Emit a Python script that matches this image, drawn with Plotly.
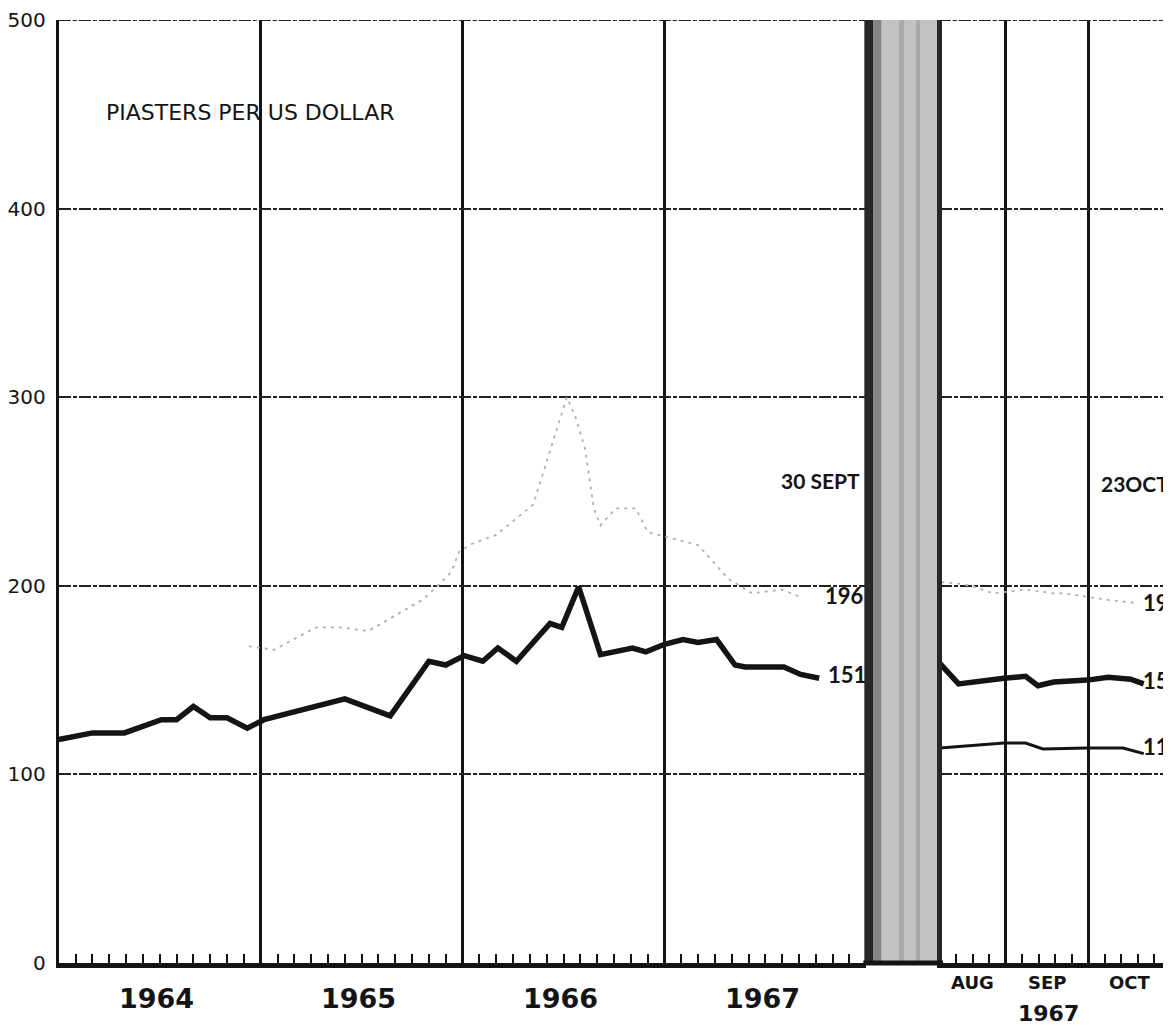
import plotly.graph_objects as go

# ---------------- data ----------------
# Left panel: months since Jan 1964 (0 = Jan 1964, 48 = Jan 1968)
solid_left_m = [0, 2, 3.9, 6.1, 7, 8, 9, 10, 11.2, 12.2, 17, 19.7, 22, 23, 24.1, 25.2,
                26.1, 27.2, 29.2, 29.9, 30.9, 32.2, 34.1, 34.9, 36, 37.1, 38, 39.1,
                40.2, 40.8, 43.1, 44.1, 45.2]
solid_left_v = [118.5, 122, 122, 129, 129, 136, 130, 130, 124.5, 129, 140, 131, 160, 158,
                163, 160, 167, 160, 180, 178, 199.5, 163.5, 167, 165, 169, 171.5, 170,
                171.5, 158, 157, 157, 153, 151]

dash_left_m = [11.3, 12.8, 13.4, 15.3, 16.7, 18.4, 21.7, 23.3, 23.8, 24.5, 26.0, 28.2,
               29.6, 30.2, 30.7, 31.3, 31.8, 32.2, 33.1, 34.3, 35.0, 38.0, 39.8, 41.2,
               43.0, 44.1]
dash_left_v = [168, 166, 169, 178, 178, 176, 193, 207, 218, 222, 227, 243, 283, 300, 290,
               272, 241, 232, 241, 241, 228.5, 221.6, 203.7, 196, 198, 194]

# Right panel: month of 1967 (8 = 1 Sep, 9 = 1 Oct)
solid_right_m = [7.2, 7.43, 7.98, 8.24, 8.39, 8.58, 8.99, 9.24, 9.51, 9.67]
solid_right_v = [159, 148, 151, 152, 147, 149, 150, 151.5, 150.5, 148]

low_right_m = [7.2, 7.98, 8.24, 8.45, 8.99, 9.42, 9.67]
low_right_v = [114, 116.6, 116.6, 113.5, 114, 114, 111]

dash_right_m = [7.22, 7.45, 7.58, 7.85, 8.24, 8.58, 8.7, 9.23, 9.55]
dash_right_v = [202, 201, 200, 196, 198, 196, 196, 192.6, 191]

year_labels = ["1964", "1965", "1966", "1967"]
year_mid = [6, 18, 30, 42]
month_labels = ["AUG", "SEP", "OCT"]
month_mid = [7.6, 8.5, 9.5]

FONT = "Lato"
WIDE = "DejaVu Sans"
INK = "#141414"
FAINT = "#b0b0b0"

fig = go.Figure()
fig.add_trace(go.Scatter(x=dash_left_m, y=dash_left_v, mode="lines",
                         line=dict(color=FAINT, width=1.8, dash="3px,5px"),
                         xaxis="x", yaxis="y", hoverinfo="skip"))
fig.add_trace(go.Scatter(x=solid_left_m, y=solid_left_v, mode="lines",
                         line=dict(color=INK, width=5.5), xaxis="x", yaxis="y"))
fig.add_trace(go.Scatter(x=dash_right_m, y=dash_right_v, mode="lines",
                         line=dict(color=FAINT, width=1.8, dash="3px,5px"),
                         xaxis="x2", yaxis="y2", hoverinfo="skip"))
fig.add_trace(go.Scatter(x=solid_right_m, y=solid_right_v, mode="lines",
                         line=dict(color=INK, width=5.5), xaxis="x2", yaxis="y2"))
fig.add_trace(go.Scatter(x=low_right_m, y=low_right_v, mode="lines",
                         line=dict(color=INK, width=3), xaxis="x2", yaxis="y2"))

# page has an 8px body margin, so figure coords = page coords - 8
OFF = 8
W, H = 1171 - OFF, 1028 - OFF
def fx(px):
    return (px - OFF) / W

GRID_DASH = "12px,2px,4px,2px"
grid = dict(showgrid=True, gridcolor="#222", gridwidth=1.5, griddash=GRID_DASH)

fig.update_layout(
    width=W, height=H,
    margin=dict(l=0, r=0, t=15 - OFF, b=H - (963 - OFF)),
    paper_bgcolor="white", plot_bgcolor="white",
    showlegend=False,
    font=dict(family=FONT, color=INK),
    xaxis=dict(domain=[fx(54), fx(865)], range=[0, 48], tickvals=[0, 12, 24, 36, 48],
               showgrid=True, gridcolor=INK, gridwidth=2.5,
               ticks="inside", ticklen=9, tickwidth=1.5, tickcolor=INK,
               minor=dict(dtick=1, tick0=0, ticks="inside", ticklen=9, tickwidth=1.5,
                          tickcolor=INK, showgrid=False),
               showticklabels=False, showline=True, linecolor=INK, linewidth=5,
               zeroline=False, anchor="y"),
    yaxis=dict(domain=[0, 1], range=[0, 500], tickvals=[0, 100, 200, 300, 400, 500],
               **grid,
               showline=True, linecolor=INK, linewidth=3, zeroline=False,
               ticks="", tickfont=dict(size=20, family=WIDE, color=INK),
               ticklabelstandoff=6, ticklabeloverflow="allow", anchor="x"),
    xaxis2=dict(domain=[fx(939), 1], range=[8 - 66 / 83, 10], tickvals=[8, 9],
                showgrid=True, gridcolor=INK, gridwidth=2.5,
                ticks="inside", ticklen=9, tickwidth=1.5, tickcolor=INK,
                minor=dict(dtick=0.2, tick0=7, ticks="inside", ticklen=9, tickwidth=1.5,
                           tickcolor=INK, showgrid=False),
                showticklabels=False, showline=True, linecolor=INK, linewidth=5,
                zeroline=False, anchor="y2"),
    yaxis2=dict(domain=[0, 1], range=[0, 500], dtick=100, **grid,
                showline=True, linecolor=INK, linewidth=3, zeroline=False,
                showticklabels=False, ticks="", anchor="x2"),
)

# top border (the 500 grid line) across both panels
fig.add_shape(type="line", xref="paper", yref="y", x0=fx(54), x1=1, y0=500, y1=500,
              line=dict(color="#222", width=2, dash=GRID_DASH), layer="above")

# shaded break band between the panels
band = [(865, 939, "#c2c2c2"), (863, 872, "#262626"), (872, 880, "#858585"),
        (898, 903, "#a9a9a9"), (915, 919, "#a9a9a9"), (936, 941, "#262626")]
for a, b, c in band:
    fig.add_shape(type="rect", xref="paper", yref="paper", x0=fx(a), x1=fx(b),
                  y0=0, y1=1, fillcolor=c, line=dict(width=0), layer="above")
# baseline continues under the band
fig.add_shape(type="line", xref="paper", yref="paper", x0=fx(862), x1=fx(942),
              y0=0, y1=0, line=dict(color=INK, width=5), layer="above")

ann = []
ann.append(dict(text="PIASTERS PER US DOLLAR", xref="x", yref="y", x=2.7, y=451,
                xanchor="left", yanchor="middle", font=dict(size=22, family=WIDE)))
ann.append(dict(text="<b>30 SEPT</b>", xref="x", yref="y", x=47.75, y=256,
                xanchor="right", yanchor="middle", font=dict(size=21)))
ann.append(dict(text="<b>23OCT</b>", xref="paper", yref="y2", x=1.0, y=254,
                xanchor="right", yanchor="middle", font=dict(size=21)))
ann.append(dict(text="<b>196</b>", xref="x", yref="y", x=45.4, y=195,
                xanchor="left", yanchor="middle", font=dict(size=22)))
ann.append(dict(text="<b>151</b>", xref="x", yref="y", x=45.6, y=153,
                xanchor="left", yanchor="middle", font=dict(size=22)))
ann.append(dict(text="<b>19</b>", xref="paper", yref="y2", x=1.0, y=191,
                xanchor="right", yanchor="middle", font=dict(size=22)))
ann.append(dict(text="<b>15</b>", xref="paper", yref="y2", x=1.0, y=150,
                xanchor="right", yanchor="middle", font=dict(size=22)))
ann.append(dict(text="<b>11</b>", xref="paper", yref="y2", x=1.0, y=115,
                xanchor="right", yanchor="middle", font=dict(size=22)))
for t, m in zip(year_labels, year_mid):
    ann.append(dict(text=f"<b>{t}</b>", xref="x", yref="paper", x=m - 0.2, y=-0.038,
                    xanchor="center", yanchor="middle", font=dict(size=27, family=WIDE)))
for t, m in zip(month_labels, month_mid):
    ann.append(dict(text=f"<b>{t}</b>", xref="x2", yref="paper", x=m, y=-0.021,
                    xanchor="center", yanchor="middle", font=dict(size=18, family=WIDE)))
ann.append(dict(text="<b>1967</b>", xref="x2", yref="paper", x=8.52, y=-0.054,
                xanchor="center", yanchor="middle", font=dict(size=22, family=WIDE)))
for a in ann:
    a["showarrow"] = False
fig.update_layout(annotations=ann)

fig.write_html("out.html")
